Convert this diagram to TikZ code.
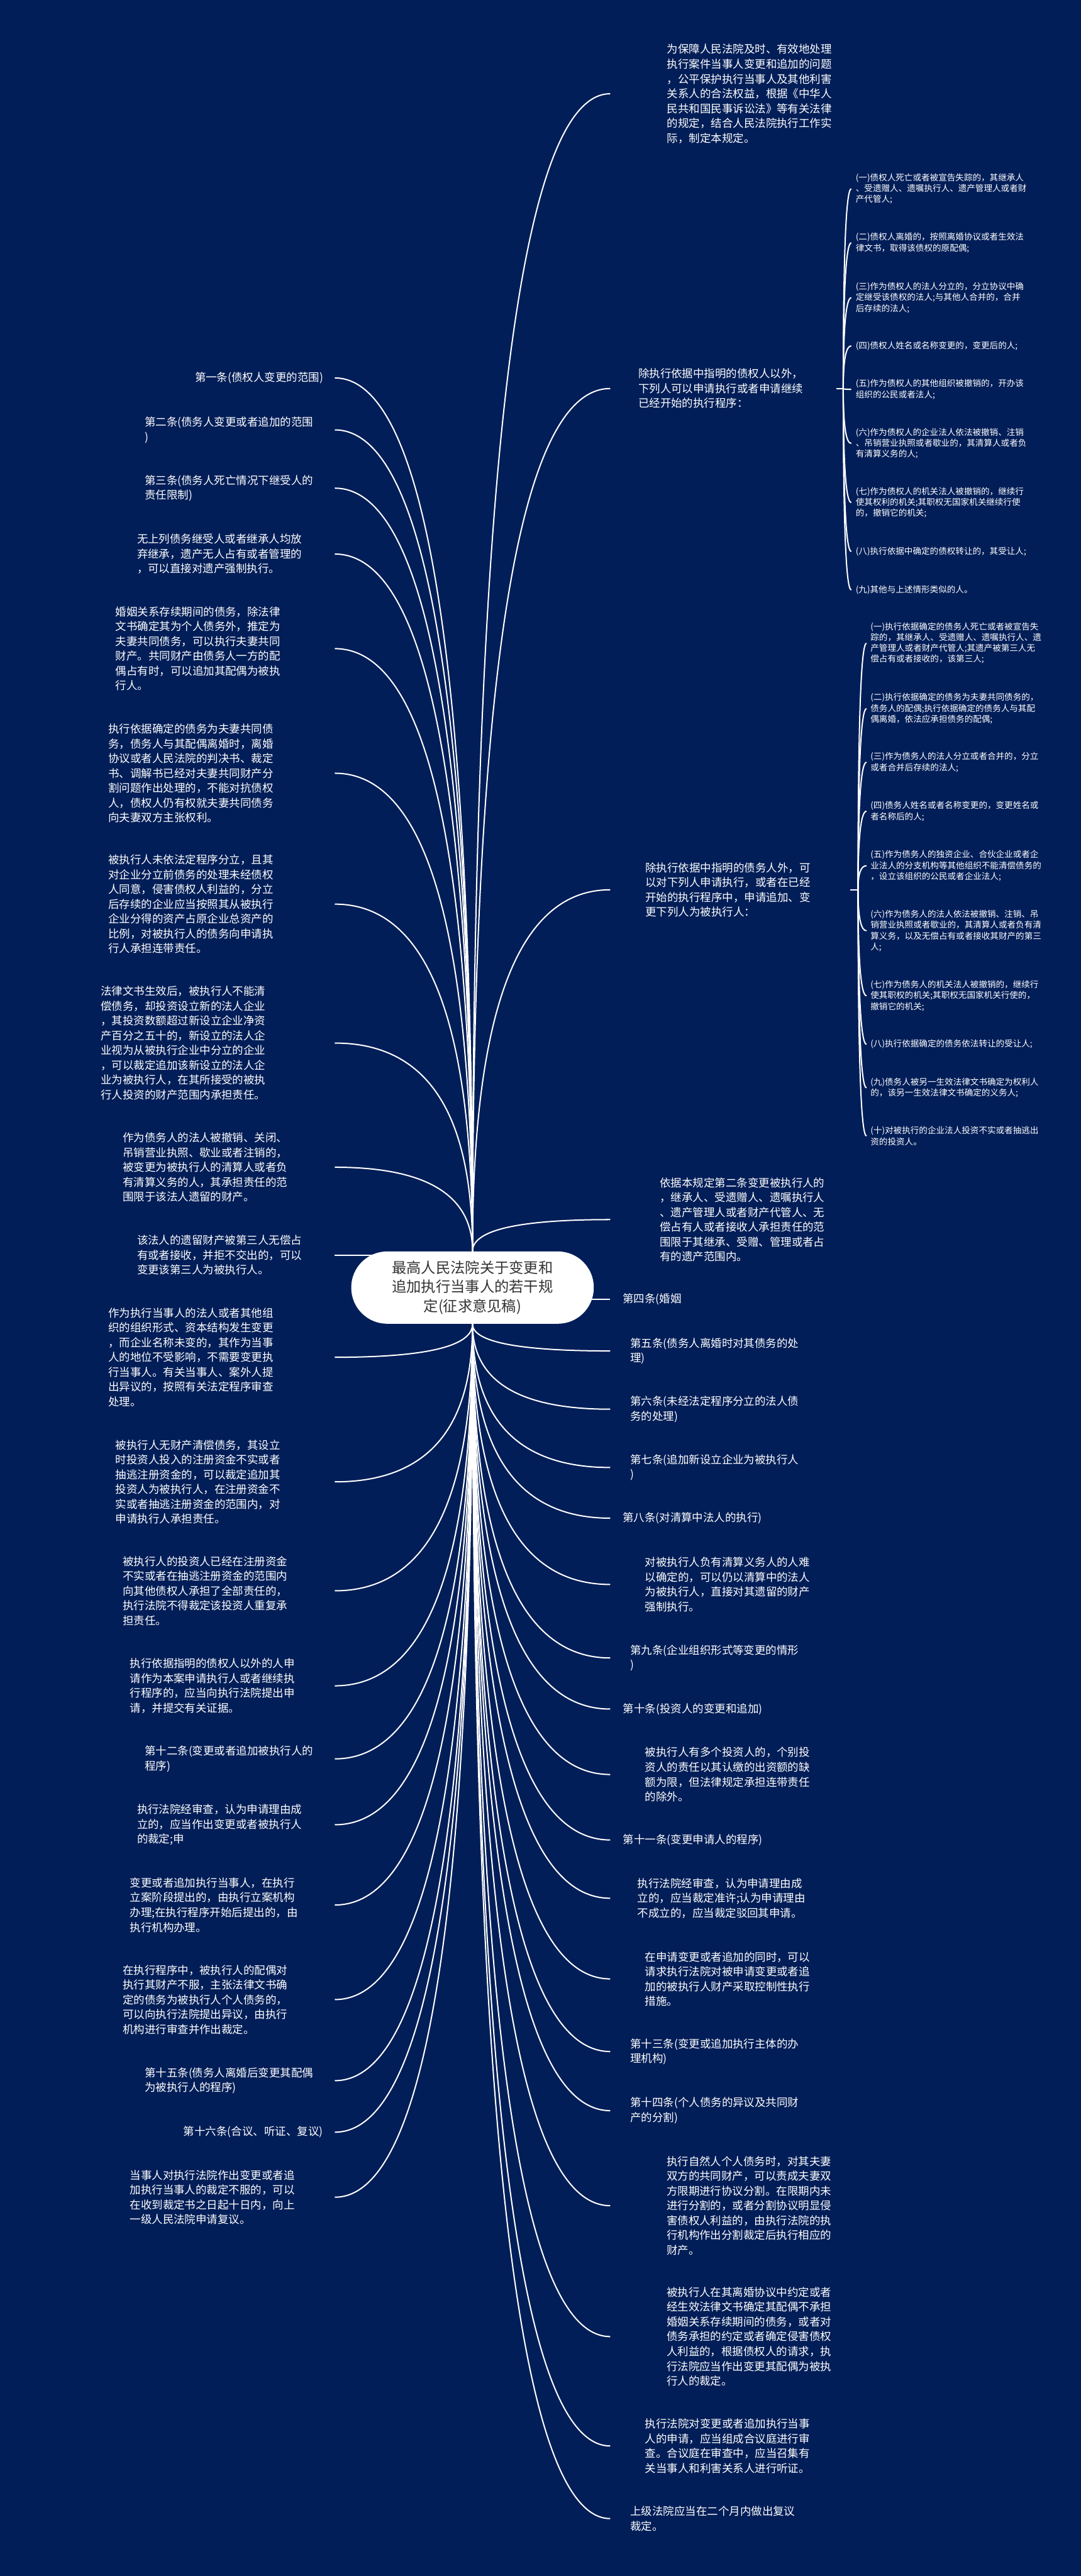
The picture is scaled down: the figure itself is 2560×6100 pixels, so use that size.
\documentclass[tikz,border=0pt]{standalone}
\usepackage{fontspec}
\newfontfamily\cjk{Noto Sans CJK SC}
\usetikzlibrary{calc}
\definecolor{bgnavy}{RGB}{2,30,88}
\definecolor{titlegray}{RGB}{51,51,51}
\newcommand\bigf{\cjk\fontsize{7.4}{9.96}\selectfont}
\newcommand\smallf{\cjk\fontsize{5.75}{7.3}\selectfont}
\newcommand\titlef{\cjk\fontsize{9.85}{13.1}\selectfont}
\newcommand\lk[3]{\draw[link] (#1) .. controls ($(#1)!0.667!(#1 |- #2)$) and ($(#2 -| #3)!0.667!(#1 |- #2)$) .. (#2 -| #3);}
\pgfdeclarelayer{back}\pgfdeclarelayer{lines}\pgfsetlayers{back,lines,main}
\begin{document}
\begin{tikzpicture}[x=0.01cm,y=-0.01cm,
  big/.style={text=white, font=\bigf, align=left, inner sep=0pt, anchor=west},
  small/.style={text=white, font=\smallf, align=left, inner sep=0pt, anchor=west},
  link/.style={draw=white, line width=0.85pt}]
\begin{pgfonlayer}{back}
\fill[bgnavy] (0,0) rectangle (2560,6100);
\end{pgfonlayer}
\useasboundingbox (0,0) rectangle (2560,6100);

% connector end columns
\coordinate (eL) at (793,0);
\coordinate (eR) at (1445,0);
\coordinate (eA) at (2016,0);
\coordinate (eB) at (2052,0);
\coordinate (jA) at (1997,920);
\coordinate (jB) at (2032,2107);

% centre
\node[fill=white, rounded corners=0.85cm, minimum width=5.74cm, minimum height=1.71cm, text=titlegray, font=\titlef, align=center, inner sep=0pt] (cen) at (1119,3049) {最高人民法院关于变更和\\追加执行当事人的若干规\\定(征求意见稿)};

% right side
\node[big] (R0) at (1579,222) {为保障人民法院及时、有效地处理\\执行案件当事人变更和追加的问题\\，公平保护执行当事人及其他利害\\关系人的合法权益，根据《中华人\\民共和国民事诉讼法》等有关法律\\的规定，结合人民法院执行工作实\\际，制定本规定。};
\node[big, text width=4.68cm] (R1) at (1511,920) {除执行依据中指明的债权人以外，\\下列人可以申请执行或者申请继续\\已经开始的执行程序：};
\node[big, text width=4.84cm] (R2) at (1528,2107) {除执行依据中指明的债务人外，可\\以对下列人申请执行，或者在已经\\开始的执行程序中，申请追加、变\\更下列人为被执行人：};
\node[big] (R3) at (1562,2888) {依据本规定第二条变更被执行人的\\，继承人、受遗赠人、遗嘱执行人\\、遗产管理人或者财产代管人、无\\偿占有人或者接收人承担责任的范\\围限于其继承、受赠、管理或者占\\有的遗产范围内。};
\node[big] (R4) at (1474,3077) {第四条(婚姻};
\node[big] (R5) at (1492,3199) {第五条(债务人离婚时对其债务的处\\理)};
\node[big] (R6) at (1492,3337) {第六条(未经法定程序分立的法人债\\务的处理)};
\node[big] (R7) at (1492,3475) {第七条(追加新设立企业为被执行人\\)};
\node[big] (R8) at (1474,3595) {第八条(对清算中法人的执行)};
\node[big] (R9) at (1527,3752) {对被执行人负有清算义务人的人难\\以确定的，可以仍以清算中的法人\\为被执行人，直接对其遗留的财产\\强制执行。};
\node[big] (R10) at (1492,3926) {第九条(企业组织形式等变更的情形\\)};
\node[big] (R11) at (1475,4047) {第十条(投资人的变更和追加)};
\node[big] (R12) at (1527,4202) {被执行人有多个投资人的，个别投\\资人的责任以其认缴的出资额的缺\\额为限，但法律规定承担连带责任\\的除外。};
\node[big] (R13) at (1475,4357) {第十一条(变更申请人的程序)};
\node[big] (R14) at (1509,4495) {执行法院经审查，认为申请理由成\\立的，应当裁定准许;认为申请理由\\不成立的，应当裁定驳回其申请。};
\node[big] (R15) at (1527,4686) {在申请变更或者追加的同时，可以\\请求执行法院对被申请变更或者追\\加的被执行人财产采取控制性执行\\措施。};
\node[big] (R16) at (1492,4858) {第十三条(变更或追加执行主体的办\\理机构)};
\node[big] (R17) at (1492,4998) {第十四条(个人债务的异议及共同财\\产的分割)};
\node[big] (R18) at (1578,5223) {执行自然人个人债务时，对其夫妻\\双方的共同财产，可以责成夫妻双\\方限期进行协议分割。在限期内未\\进行分割的，或者分割协议明显侵\\害债权人利益的，由执行法院的执\\行机构作出分割裁定后执行相应的\\财产。};
\node[big] (R19) at (1578,5533) {被执行人在其离婚协议中约定或者\\经生效法律文书确定其配偶不承担\\婚姻关系存续期间的债务，或者对\\债务承担的约定或者确定侵害债权\\人利益的，根据债权人的请求，执\\行法院应当作出变更其配偶为被执\\行人的裁定。};
\node[big] (R20) at (1527,5792) {执行法院对变更或者追加执行当事\\人的申请，应当组成合议庭进行审\\查。合议庭在审查中，应当召集有\\关当事人和利害关系人进行听证。};
\node[big] (R21) at (1492,5964) {上级法院应当在二个月内做出复议\\裁定。};

% sublist A
\node[small] (a1) at (2026,447) {(一)债权人死亡或者被宣告失踪的，其继承人\\、受遗赠人、遗嘱执行人、遗产管理人或者财\\产代管人;};
\node[small] (a2) at (2026,575) {(二)债权人离婚的，按照离婚协议或者生效法\\律文书，取得该债权的原配偶;};
\node[small] (a3) at (2026,705) {(三)作为债权人的法人分立的，分立协议中确\\定继受该债权的法人;与其他人合并的，合并\\后存续的法人;};
\node[small] (a4) at (2026,819) {(四)债权人姓名或名称变更的，变更后的人;};
\node[small] (a5) at (2026,922) {(五)作为债权人的其他组织被撤销的，开办该\\组织的公民或者法人;};
\node[small] (a6) at (2026,1050) {(六)作为债权人的企业法人依法被撤销、注销\\、吊销营业执照或者歇业的，其清算人或者负\\有清算义务的人;};
\node[small] (a7) at (2026,1190) {(七)作为债权人的机关法人被撤销的，继续行\\使其权利的机关;其职权无国家机关继续行使\\的，撤销它的机关;};
\node[small] (a8) at (2026,1306) {(八)执行依据中确定的债权转让的，其受让人;};
\node[small] (a9) at (2026,1397) {(九)其他与上述情形类似的人。};

% sublist B
\node[small] (b1) at (2061,1523) {(一)执行依据确定的债务人死亡或者被宣告失\\踪的，其继承人、受遗赠人、遗嘱执行人、遗\\产管理人或者财产代管人;其遗产被第三人无\\偿占有或者接收的，该第三人;};
\node[small] (b2) at (2061,1678) {(二)执行依据确定的债务为夫妻共同债务的，\\债务人的配偶;执行依据确定的债务人与其配\\偶离婚，依法应承担债务的配偶;};
\node[small] (b3) at (2061,1805) {(三)作为债务人的法人分立或者合并的，分立\\或者合并后存续的法人;};
\node[small] (b4) at (2061,1921) {(四)债务人姓名或者名称变更的，变更姓名或\\者名称后的人;};
\node[small] (b5) at (2061,2050) {(五)作为债务人的独资企业、合伙企业或者企\\业法人的分支机构等其他组织不能清偿债务的\\，设立该组织的公民或者企业法人;};
\node[small] (b6) at (2061,2204) {(六)作为债务人的法人依法被撤销、注销、吊\\销营业执照或者歇业的，其清算人或者负有清\\算义务，以及无偿占有或者接收其财产的第三\\人;};
\node[small] (b7) at (2061,2358) {(七)作为债务人的机关法人被撤销的，继续行\\使其职权的机关;其职权无国家机关行使的，\\撤销它的机关;};
\node[small] (b8) at (2061,2473) {(八)执行依据确定的债务依法转让的受让人;};
\node[small] (b9) at (2061,2576) {(九)债务人被另一生效法律文书确定为权利人\\的，该另一生效法律文书确定的义务人;};
\node[small] (b10) at (2061,2690) {(十)对被执行的企业法人投资不实或者抽逃出\\资的投资人。};

% left side
\node[big] (L1) at (461,895) {第一条(债权人变更的范围)};
\node[big] (L2) at (342,1018) {第二条(债务人变更或者追加的范围\\)};
\node[big] (L3) at (342,1156) {第三条(债务人死亡情况下继受人的\\责任限制)};
\node[big] (L4) at (324,1312) {无上列债务继受人或者继承人均放\\弃继承，遗产无人占有或者管理的\\，可以直接对遗产强制执行。};
\node[big] (L5) at (273,1536) {婚姻关系存续期间的债务，除法律\\文书确定其为个人债务外，推定为\\夫妻共同债务，可以执行夫妻共同\\财产。共同财产由债务人一方的配\\偶占有时，可以追加其配偶为被执\\行人。};
\node[big] (L6) at (256,1831) {执行依据确定的债务为夫妻共同债\\务，债务人与其配偶离婚时，离婚\\协议或者人民法院的判决书、裁定\\书、调解书已经对夫妻共同财产分\\割问题作出处理的，不能对抗债权\\人，债权人仍有权就夫妻共同债务\\向夫妻双方主张权利。};
\node[big] (L7) at (256,2141) {被执行人未依法定程序分立，且其\\对企业分立前债务的处理未经债权\\人同意，侵害债权人利益的，分立\\后存续的企业应当按照其从被执行\\企业分得的资产占原企业总资产的\\比例，对被执行人的债务向申请执\\行人承担连带责任。};
\node[big] (L8) at (238,2470) {法律文书生效后，被执行人不能清\\偿债务，却投资设立新的法人企业\\，其投资数额超过新设立企业净资\\产百分之五十的，新设立的法人企\\业视为从被执行企业中分立的企业\\，可以裁定追加该新设立的法人企\\业为被执行人，在其所接受的被执\\行人投资的财产范围内承担责任。};
\node[big] (L9) at (290,2764) {作为债务人的法人被撤销、关闭、\\吊销营业执照、歇业或者注销的，\\被变更为被执行人的清算人或者负\\有清算义务的人，其承担责任的范\\围限于该法人遗留的财产。};
\node[big] (L10) at (324,2972) {该法人的遗留财产被第三人无偿占\\有或者接收，并拒不交出的，可以\\变更该第三人为被执行人。};
\node[big] (L11) at (256,3214) {作为执行当事人的法人或者其他组\\织的组织形式、资本结构发生变更\\，而企业名称未变的，其作为当事\\人的地位不受影响，不需要变更执\\行当事人。有关当事人、案外人提\\出异议的，按照有关法定程序审查\\处理。};
\node[big] (L12) at (273,3509) {被执行人无财产清偿债务，其设立\\时投资人投入的注册资金不实或者\\抽逃注册资金的，可以裁定追加其\\投资人为被执行人，在注册资金不\\实或者抽逃注册资金的范围内，对\\申请执行人承担责任。};
\node[big] (L13) at (290,3767) {被执行人的投资人已经在注册资金\\不实或者在抽逃注册资金的范围内\\向其他债权人承担了全部责任的，\\执行法院不得裁定该投资人重复承\\担责任。};
\node[big] (L14) at (307,3992) {执行依据指明的债权人以外的人申\\请作为本案申请执行人或者继续执\\行程序的，应当向执行法院提出申\\请，并提交有关证据。};
\node[big] (L15) at (342,4165) {第十二条(变更或者追加被执行人的\\程序)};
\node[big] (L16) at (324,4321) {执行法院经审查，认为申请理由成\\立的，应当作出变更或者被执行人\\的裁定;申};
\node[big] (L17) at (307,4511) {变更或者追加执行当事人，在执行\\立案阶段提出的，由执行立案机构\\办理;在执行程序开始后提出的，由\\执行机构办理。};
\node[big] (L18) at (290,4735) {在执行程序中，被执行人的配偶对\\执行其财产不服，主张法律文书确\\定的债务为被执行人个人债务的，\\可以向执行法院提出异议，由执行\\机构进行审查并作出裁定。};
\node[big] (L19) at (342,4927) {第十五条(债务人离婚后变更其配偶\\为被执行人的程序)};
\node[big] (L20) at (434,5049) {第十六条(合议、听证、复议)};
\node[big] (L21) at (307,5203) {当事人对执行法院作出变更或者追\\加执行当事人的裁定不服的，可以\\在收到裁定书之日起十日内，向上\\一级人民法院申请复议。};

\begin{pgfonlayer}{lines}
% right connectors
\lk{cen.north}{R0.west}{eR}
\lk{cen.north}{R1.west}{eR}
\lk{cen.north}{R2.west}{eR}
\lk{cen.north}{R3.west}{eR}
\draw[link] (R4.west -| cen.center) -- (R4.west -| eR);
\foreach \n in {R5,R6,R7,R8,R9,R10,R11,R12,R13,R14,R15,R16,R17,R18,R19,R20,R21}{\lk{cen.south}{\n.west}{eR}}
% left connectors
\foreach \n in {L1,L2,L3,L4,L5,L6,L7,L8,L9}{\lk{cen.north}{\n.east}{eL}}
\draw[link] (L10.east -| cen.center) -- (L10.east -| eL);
\foreach \n in {L11,L12,L13,L14,L15,L16,L17,L18,L19,L20,L21}{\lk{cen.south}{\n.east}{eL}}
% sublists
\draw[link] (R1.east) -- (jA);
\foreach \n in {a1,a2,a3,a4,a5,a6,a7,a8,a9}{\lk{jA}{\n.west}{eA}}
\draw[link] (R2.east) -- (jB);
\foreach \n in {b1,b2,b3,b4,b5,b6,b7,b8,b9,b10}{\lk{jB}{\n.west}{eB}}
\end{pgfonlayer}
\end{tikzpicture}
\end{document}
